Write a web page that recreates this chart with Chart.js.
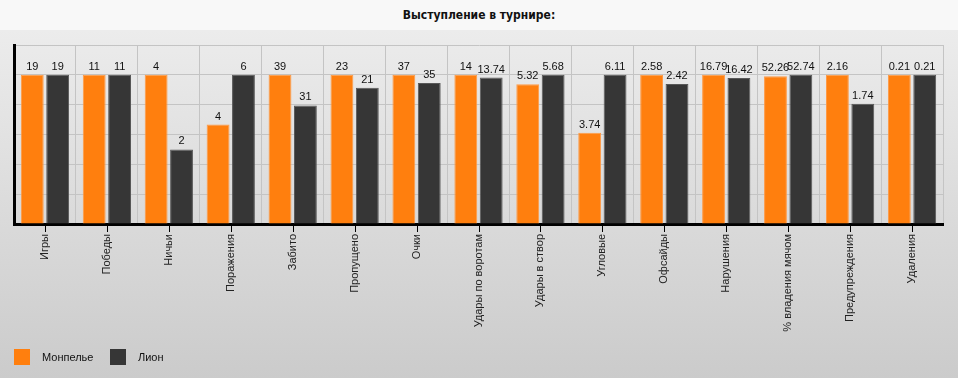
<!DOCTYPE html>
<html>
<head>
<meta charset="utf-8">
<script src="https://cdn.jsdelivr.net/npm/chart.js@4"></script>
<style>
    html, body { margin: 0; padding: 0; }
    body {
        width: 958px; height: 378px; position: relative; overflow: hidden;
        background: linear-gradient(#ececec 30px, #cbcbcb 378px);
        font-family: "Liberation Sans", Arial, sans-serif;
    }
    #titleBar {
        position: absolute; left: 0; top: 0; width: 958px; height: 30px;
        background: #f8f8f8; text-align: center;
        font: bold 12px "Liberation Sans Narrow", "DejaVu Sans Condensed", Arial, sans-serif;
        line-height: 31px;
        color: #111;
    }
    #chartBox { position: absolute; left: 0; top: 0; width: 958px; height: 378px; }
    .legend { position: absolute; top: 349px; font-size: 11px; color: #111; }
    .legend span.box { position: absolute; left: 0; top: 0; width: 16px; height: 16px; }
    .legend span.txt { position: absolute; left: 28px; top: 1px; white-space: nowrap; line-height: 14px; }
</style>
</head>
<body>
<div id="titleBar">Выступление в турнире:</div>
<div id="chartBox"><canvas id="statsChart" width="958" height="378"></canvas></div>
<div class="legend" style="left:14px"><span class="box" style="background:#ff7f0e"></span><span class="txt">Монпелье</span></div>
<div class="legend" style="left:110px"><span class="box" style="background:#363636"></span><span class="txt">Лион</span></div>
<script>
// Categories and values
const categories = ['Игры', 'Победы', 'Ничьи', 'Поражения', 'Забито', 'Пропущено', 'Очки',
    'Удары по воротам', 'Удары в створ', 'Угловые', 'Офсайды', 'Нарушения',
    '% владения мячом', 'Предупреждения', 'Удаления'];
const montpellier = [19, 11, 4, 4, 39, 23, 37, 14, 5.32, 3.74, 2.58, 16.79, 52.26, 2.16, 0.21];
const lyon = [19, 11, 2, 6, 31, 21, 35, 13.74, 5.68, 6.11, 2.42, 16.42, 52.74, 1.74, 0.21];
const yTicks = [0, 20, 40, 60, 80, 100, 120];

// Each category is scaled so that the larger of the two values is 100
function share(values, other) {
    return values.map((v, i) => {
        const max = Math.max(v, other[i]);
        return max ? v / max * 100 : 0;
    });
}

const rawValues = [montpellier, lyon];

// Draw value labels above bars and tick marks under category centres
const valueLabels = {
    id: 'valueLabels',
    afterDatasetsDraw(chart) {
        const ctx = chart.ctx;
        ctx.save();
        ctx.font = '11px "Liberation Sans", Arial, sans-serif';
        ctx.fillStyle = '#111';
        ctx.textAlign = 'center';
        ctx.textBaseline = 'alphabetic';
        chart.data.datasets.forEach((ds, di) => {
            chart.getDatasetMeta(di).data.forEach((bar, i) => {
                ctx.fillText(String(rawValues[di][i]), bar.x, bar.y - 5);
            });
        });
        const xs = chart.scales.x;
        ctx.strokeStyle = '#000';
        ctx.lineWidth = 1;
        categories.forEach((c, i) => {
            const x = Math.round(xs.getPixelForValue(i)) + 0.5;
            ctx.beginPath();
            ctx.moveTo(x, xs.top);
            ctx.lineTo(x, xs.top + 8);
            ctx.stroke();
        });
        ctx.restore();
    }
};

new Chart(document.getElementById('statsChart'), {
    type: 'bar',
    data: {
        labels: categories,
        datasets: [
            {
                label: 'Монпелье',
                data: share(montpellier, lyon),
                backgroundColor: '#ff7f0e',
                borderColor: '#ff9a45',
                borderWidth: 1,
                categoryPercentage: 0.82,
                barPercentage: 0.9
            },
            {
                label: 'Лион',
                data: share(lyon, montpellier),
                backgroundColor: '#363636',
                borderColor: '#585858',
                borderWidth: 1,
                categoryPercentage: 0.82,
                barPercentage: 0.9
            }
        ]
    },
    options: {
        responsive: false,
        animation: false,
        layout: { padding: { left: 14, right: 15, top: 45, bottom: 0 } },
        plugins: {
            legend: { display: false },
            title: { display: false },
            tooltip: { enabled: false }
        },
        scales: {
            x: {
                offset: true,
                grid: { offset: true, color: '#c4c4c4', drawTicks: false },
                border: { color: '#000', width: 3 },
                ticks: {
                    color: '#222',
                    font: { size: 11, family: '"Liberation Sans", Arial, sans-serif' },
                    minRotation: 90,
                    maxRotation: 90,
                    padding: 10,
                    autoSkip: false
                },
                afterFit(scale) { scale.height = 154; }
            },
            y: {
                min: yTicks[0],
                max: yTicks[yTicks.length - 1],
                afterBuildTicks(scale) { scale.ticks = yTicks.map(v => ({ value: v })); },
                grid: { color: '#c4c4c4', drawTicks: false },
                border: { color: '#000', width: 3 },
                ticks: { display: false },
                afterFit(scale) { scale.width = 0; }
            }
        }
    },
    plugins: [valueLabels]
});
</script>
</body>
</html>
